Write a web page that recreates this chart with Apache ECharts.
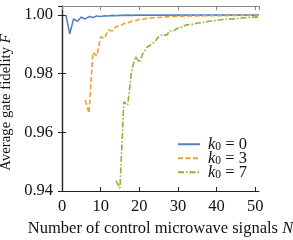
<!DOCTYPE html>
<html>
<head>
<meta charset="utf-8">
<script src="https://cdn.jsdelivr.net/npm/echarts@6/dist/echarts.min.js"></script>
<style>
html,body{margin:0;padding:0;background:#fff;}
#c{width:293px;height:240px;}
</style>
</head>
<body>
<div id="c"></div>
<script>
// ---- data ----
const nK0 = [1,2,3,4,5,6,7,8,9,10,11,12,13,14,15,16,17,18,19,20,21,22,23,24,25,26,27,28,29,30,31,32,33,34,35,36,37,38,39,40,41,42,43,44,45,46,47,48,49,50,51];
const fK0 = [1.0000,0.9935,0.9986,0.9978,0.9992,0.9986,0.9994,0.9991,0.9996,0.9994,0.9997,0.9996,0.9998,0.9997,0.9998,0.9998,0.9999,0.9998,0.9999,0.9999,0.9999,0.9999,0.9999,0.9999,0.9999,0.9999,0.9999,0.9999,0.9999,0.9999,0.9999,0.9999,0.9999,0.9999,0.9999,0.9999,0.9999,0.9999,0.9999,0.9999,0.9999,0.9999,0.9999,0.9999,0.9999,0.9999,0.9999,0.9999,0.9999,0.9999,0.9999];

const nK3 = [6,7,8,9,10,11,12,13,14,15,16,17,18,19,20,21,22,23,24,25,26,27,28,29,30,31,32,33,34,35,36,37,38,39,40,41,42,43,44,45,46,47,48,49,50,51];
const fK3 = [0.9710,0.9665,0.9872,0.9860,0.9925,0.9920,0.9948,0.9945,0.9960,0.9962,0.9970,0.9972,0.9978,0.9980,0.9984,0.9985,0.9988,0.9989,0.9990,0.9991,0.9992,0.9993,0.9994,0.9994,0.9995,0.9995,0.9995,0.9996,0.9996,0.9996,0.9996,0.9997,0.9997,0.9997,0.9997,0.9997,0.9997,0.9998,0.9998,0.9998,0.9998,0.9998,0.9998,0.9998,0.9998,0.9998];

const nK7 = [14,15,16,17,18,19,20,21,22,23,24,25,26,27,28,29,30,31,32,33,34,35,36,37,38,39,40,41,42,43,44,45,46,47,48,49,50,51];
const fK7 = [0.9435,0.9410,0.9704,0.9692,0.9807,0.9858,0.9838,0.9870,0.9890,0.9898,0.9908,0.9925,0.9933,0.9930,0.9945,0.9946,0.9955,0.9958,0.9965,0.9967,0.9968,0.9972,0.9973,0.9975,0.9978,0.9979,0.9981,0.9983,0.9984,0.9985,0.9986,0.9987,0.9988,0.9990,0.9990,0.9991,0.9992,0.9992];

const seriesNames = ['k0 = 0','k0 = 3','k0 = 7'];
const legendLabels = {'k0 = 0':'0','k0 = 3':'3','k0 = 7':'7'};
const xTicks = [0,10,20,30,40,50];
const yTicks = [0.94,0.96,0.98,1.00];

const FONT = 'Liberation Serif';
const FS = 16.5;
const colors = ['#5581c1','#eaa038','#8db535'];

function pairs(xs, ys){ return xs.map((x,i)=>[x, ys[i]]); }

const chart = echarts.init(document.getElementById('c'), null, {renderer:'canvas'});
const axisDark = '#222';
const axisGray = '#888';
const tickLen = 4;
const txt = '#111';

chart.setOption({
  animation:false,
  backgroundColor:'#fff',
  grid:{left:62,right:34,top:6,bottom:49,containLabel:false,outerBoundsMode:'none'},
  xAxis:[{
    type:'value', min:0, max:51, interval:10, position:'bottom',
    axisLine:{show:true,lineStyle:{color:axisDark,width:1.2}},
    axisTick:{show:true,inside:true,length:tickLen,lineStyle:{color:axisDark}},
    splitLine:{show:false},
    axisLabel:{fontFamily:FONT,fontSize:FS,color:txt,margin:7,showMaxLabel:false,
      formatter:v=> xTicks.includes(v)? String(v):''},
    name:'{a|Number of control microwave signals }{i|N}',
    nameLocation:'middle', nameGap:24,
    nameTextStyle:{rich:{a:{fontFamily:FONT,fontSize:FS,color:txt},i:{fontFamily:FONT,fontSize:FS,fontStyle:'italic',color:txt}}}
  },{
    type:'value', min:0, max:51, interval:10, position:'top',
    axisLine:{show:true,lineStyle:{color:axisGray,width:1.2}},
    axisTick:{show:true,inside:true,length:tickLen,lineStyle:{color:axisGray}},
    axisLabel:{show:false}, splitLine:{show:false}
  }],
  yAxis:[{
    type:'value', min:0.94, max:1.003, interval:0.02, position:'left',
    axisLine:{show:true,lineStyle:{color:axisDark,width:1.2}},
    axisTick:{show:true,inside:true,length:tickLen,lineStyle:{color:axisDark}},
    splitLine:{show:false},
    axisLabel:{fontFamily:FONT,fontSize:FS,color:txt,margin:9,showMaxLabel:false,
      formatter:v=> yTicks.some(t=>Math.abs(t-v)<1e-6)? v.toFixed(2):''},
    name:'{a|Average gate fidelity }{i|F}',
    nameLocation:'middle', nameGap:42, nameRotate:90,
    nameTextStyle:{padding:[0,8,0,0],rich:{a:{fontFamily:FONT,fontSize:14.8,color:txt},i:{fontFamily:FONT,fontSize:14.8,fontStyle:'italic',color:txt}}}
  },{
    type:'value', min:0.94, max:1.003, interval:0.02, position:'right',
    axisLine:{show:true,lineStyle:{color:axisDark,width:1.2}},
    axisTick:{show:true,inside:true,length:tickLen,lineStyle:{color:axisDark}},
    axisLabel:{show:false}, splitLine:{show:false}
  }],
  legend:{
    orient:'vertical', left:172, top:129, itemWidth:22, itemHeight:10, itemGap:-5,
    data:seriesNames,
    itemStyle:{opacity:0, color:'transparent', borderColor:'transparent', borderWidth:0},
    formatter:name=>'{i|k}{s|0}{t| = '+legendLabels[name]+'}',
    textStyle:{rich:{
      i:{fontFamily:FONT,fontSize:FS,fontStyle:'italic',color:txt,lineHeight:17.5,padding:[0,0,0,3]},
      s:{fontFamily:FONT,fontSize:11.5,color:txt,verticalAlign:'bottom',lineHeight:17.5,padding:[7,0,0,0]},
      t:{fontFamily:FONT,fontSize:FS,color:txt,lineHeight:17.5}
    }}
  },
  series:[
    {name:seriesNames[0],type:'line',data:pairs(nK0,fK0),symbol:'none',color:colors[0],
     lineStyle:{width:1.6,color:colors[0]},clip:true},
    {name:seriesNames[1],type:'line',data:pairs(nK3,fK3),symbol:'none',color:colors[1],
     lineStyle:{width:1.6,color:colors[1],type:[5,2.5]},clip:true},
    {name:seriesNames[2],type:'line',data:pairs(nK7,fK7),symbol:'none',color:colors[2],
     lineStyle:{width:1.6,color:colors[2],type:[6,2,1.5,2]},clip:true}
  ]
});
</script>
</body>
</html>
